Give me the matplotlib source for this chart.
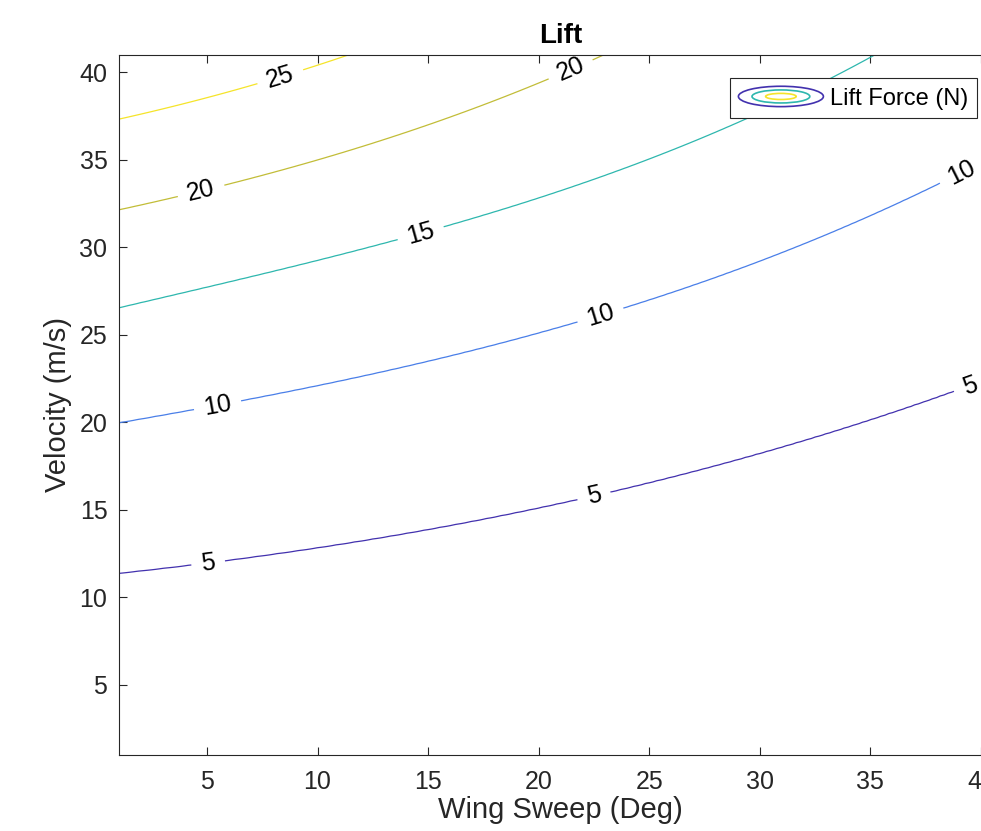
import numpy as np
import matplotlib
matplotlib.use("Agg")
import matplotlib.pyplot as plt
from matplotlib.legend_handler import HandlerBase
from matplotlib.patches import Ellipse

plt.rcParams['font.family'] = ['Liberation Sans', 'DejaVu Sans']

# ---- data (velocity of each lift contour at sample sweeps) ----
sweep_pts = [1, 5, 10, 15, 20, 25, 30, 35, 41]
lift_levels = [5, 10, 15, 20, 25]
v_lift5 = [11.38, 11.95, 12.85, 13.9, 15.1, 16.55, 18.2, 20.2, 22.8]
v_lift10 = [19.98, 20.85, 22.1, 23.5, 25.1, 27.0, 29.2, 31.8, 35.5]
v_lift15 = [26.53, 27.7, 29.3, 30.9, 32.85, 34.95, 37.65, 40.95, 45.4]
v_lift20 = [32.13, 33.3, 34.95, 37.0, 39.4, 42.2, 45.5, 49.5, 55.0]
v_lift25 = [37.17, 38.7, 40.5, 42.6, 45.2, 48.5, 52.5, 57.0, 63.0]
v_lift30 = [42.2, 44.0, 46.2, 48.6, 51.5, 55.0, 59.5, 64.5, 71.0]

x_ticks = [5, 10, 15, 20, 25, 30, 35, 40]
y_ticks = [5, 10, 15, 20, 25, 30, 35, 40]

# label anchor points (sweep, velocity)
label_pts = [(8.3, 39.8), (4.7, 33.4), (21.5, 40.0), (14.7, 30.65),
             (5.5, 20.85), (22.8, 26.1), (39.1, 34.3), (5.05, 12.0),
             (22.5, 15.8), (39.5, 22.1)]

level_colors = ['#4231AE', '#4A7FE8', '#2EB7AE', '#C2BD38', '#F5E42A']

# ---- build the lift field from the read contours ----
all_levels = [0, 5, 10, 15, 20, 25, 30]
rows = [v_lift5, v_lift10, v_lift15, v_lift20, v_lift25, v_lift30]
fits = [np.polyfit(sweep_pts, r, 3) for r in rows]

sweep = np.linspace(1, 41, 241)
vel = np.linspace(1, 41, 241)
Z = np.zeros((len(vel), len(sweep)))
for j, s in enumerate(sweep):
    vl = [0.0] + [np.polyval(f, s) for f in fits]
    Z[:, j] = np.interp(vel, vl, all_levels)

# ---- figure ----
fig = plt.figure(figsize=(9.81, 8.31), dpi=100)
ax = fig.add_axes([118.5 / 981, 76 / 831, 884.5 / 981, 700.5 / 831])

cs = ax.contour(sweep, vel, Z, levels=lift_levels, colors=level_colors, linewidths=0.9)
ax.clabel(cs, manual=label_pts, inline=True, fmt='%d', fontsize=18,
          colors='black', inline_spacing=10)

ax.set_xlim(1, 41)
ax.set_ylim(1, 41)
ax.set_xticks(x_ticks)
ax.set_yticks(y_ticks)

dark = '#262626'
for sp in ax.spines.values():
    sp.set_color(dark)
    sp.set_linewidth(0.8)
ax.tick_params(axis='both', direction='in', top=True, right=True, length=6,
               width=0.8, color=dark, labelcolor=dark, labelsize=18)
ax.tick_params(axis='x', pad=11)
ax.tick_params(axis='y', pad=8)

ax.set_xlabel('Wing Sweep (Deg)', fontsize=21, color=dark, labelpad=1)
ax.set_ylabel('Velocity (m/s)', fontsize=21, color=dark, labelpad=5)
ax.set_title('Lift', fontsize=20, fontweight='bold', color='black', pad=8)


class ContourIcon:
    pass


class HandlerContourIcon(HandlerBase):
    def create_artists(self, legend, orig_handle, xdescent, ydescent, width,
                       height, fontsize, trans):
        cx = width / 2 - xdescent
        cy = height / 2 - ydescent
        out = []
        for fw, fh, col in [(1.0, 1.0, level_colors[0]),
                            (0.68, 0.64, level_colors[2]),
                            (0.36, 0.3, level_colors[4])]:
            out.append(Ellipse((cx, cy), width * fw, height * fh, fill=False,
                               edgecolor=col, lw=1.2, transform=trans))
        return out


leg = fig.legend(handles=[ContourIcon()], labels=['Lift Force (N)'],
                 handler_map={ContourIcon: HandlerContourIcon()},
                 loc='upper right', bbox_to_anchor=(977 / 981, 1 - 78 / 831),
                 bbox_transform=fig.transFigure, borderaxespad=0,
                 fancybox=False, edgecolor=dark, framealpha=1, fontsize=17,
                 handlelength=3.6, handleheight=0.95, handletextpad=0.3,
                 borderpad=0.35)
leg.get_frame().set_linewidth(0.8)
for t in leg.get_texts():
    t.set_color('black')

fig.savefig('out.png', dpi=100)
